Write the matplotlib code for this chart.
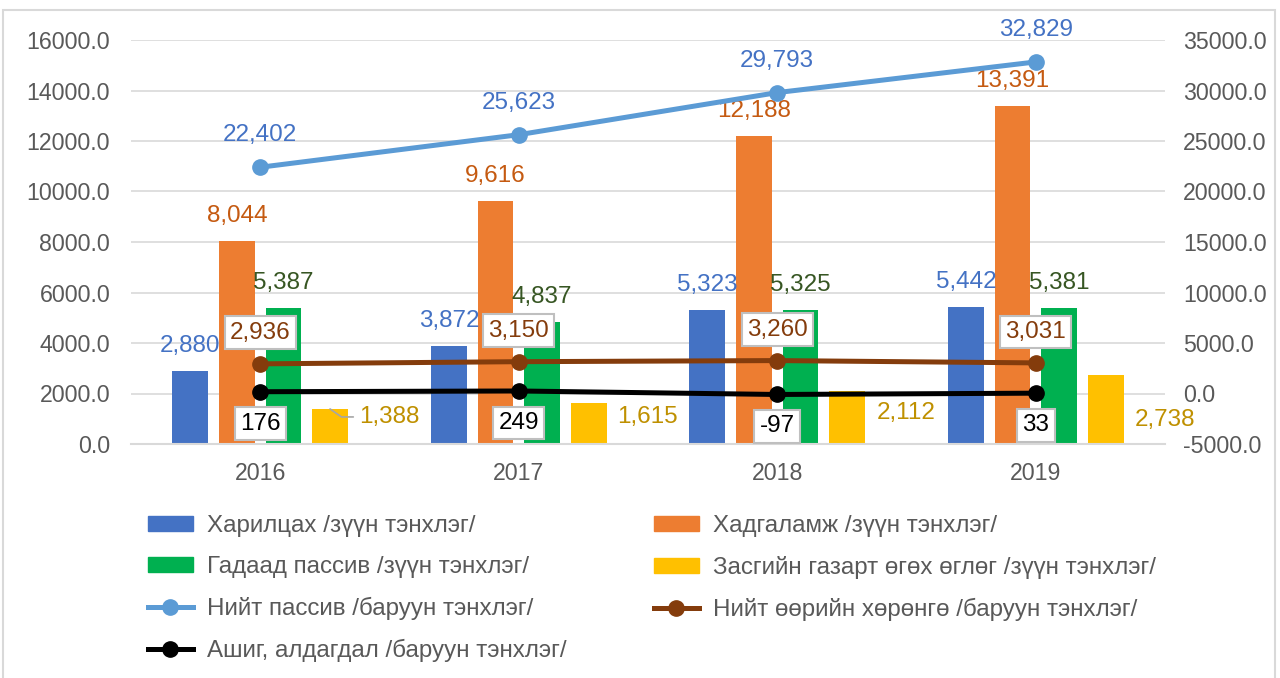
import matplotlib
matplotlib.use("Agg")
import matplotlib.pyplot as plt
from matplotlib.lines import Line2D
from matplotlib.patches import Patch, Rectangle
import numpy as np

plt.rcParams['font.family'] = ['Liberation Sans', 'DejaVu Sans']

years = ['2016', '2017', '2018', '2019']
# зүүн тэнхлэг (bars)
harilcah = [2880, 3872, 5323, 5442]
hadgalamj = [8044, 9616, 12188, 13391]
gadaad_passiv = [5387, 4837, 5325, 5381]
zasgiin_oglog = [1388, 1615, 2112, 2738]
# баруун тэнхлэг (lines)
niit_passiv = [22402, 25623, 29793, 32829]
niit_ooriin = [2936, 3150, 3260, 3031]
ashig = [176, 249, -97, 33]

names = ['Харилцах /зүүн тэнхлэг/', 'Хадгаламж /зүүн тэнхлэг/',
         'Гадаад пассив /зүүн тэнхлэг/', 'Засгийн газарт өгөх өглөг /зүүн тэнхлэг/',
         'Нийт пассив /баруун тэнхлэг/', 'Нийт өөрийн хөрөнгө /баруун тэнхлэг/',
         'Ашиг, алдагдал /баруун тэнхлэг/']

bar_colors = ['#4472C4', '#ED7D31', '#00B050', '#FFC000']
bar_label_colors = ['#4472C4', '#C55A11', '#375623', '#BF9000']
TICK = '#595959'
GRID = '#D9D9D9'
LBL = 17.5

fig = plt.figure(figsize=(12.8, 6.78), dpi=100)
ax = fig.add_axes([131/1280, 234/678, 1034/1280, 404/678])
ax2 = ax.twinx()

x = np.arange(len(years))
w = 0.139
offs = [-0.27, -0.09, 0.09, 0.27]
series = [harilcah, hadgalamj, gadaad_passiv, zasgiin_oglog]

for s, off, c, lc in zip(series, offs, bar_colors, bar_label_colors):
    ax.bar(x + off, s, width=w, color=c, zorder=2)
    if c == '#FFC000':
        continue
    for xi, v in zip(x, s):
        ax.annotate(f'{v:,}', (xi + off, v), xytext=(0, 25), textcoords='offset pixels',
                    ha='center', va='center', fontsize=LBL, color=lc, zorder=5)

# yellow labels sit to the right of the bars
yel_dy = [-8, -14, -22, -45]
for i, (xi, v) in enumerate(zip(x, zasgiin_oglog)):
    arrow = dict(arrowstyle='-', color='#A6A6A6', lw=1.2, shrinkA=2, shrinkB=0,
                 connectionstyle='angle,angleA=0,angleB=-35,rad=0') if i == 0 else None
    ax.annotate(f'{v:,}', (xi + offs[3], v), xytext=(59, yel_dy[i]), textcoords='offset pixels',
                ha='center', va='center', fontsize=LBL, color='#BF9000', zorder=5,
                arrowprops=arrow)

ax.set_xlim(-0.5, 3.5)
ax.set_ylim(0, 16000)
ax.set_yticks(np.arange(0, 16001, 2000))
ax.yaxis.set_major_formatter(matplotlib.ticker.FormatStrFormatter('%.1f'))
ax.grid(axis='y', color=GRID, lw=1.2, zorder=0)
ax.set_axisbelow(True)
ax.set_xticks(x)
ax.set_xticklabels(years)

ax2.set_ylim(-5000, 35000)
ax2.set_yticks(np.arange(-5000, 35001, 5000))
ax2.yaxis.set_major_formatter(matplotlib.ticker.FormatStrFormatter('%.1f'))

ax2.plot(x, niit_passiv, color='#5B9BD5', lw=3.6, marker='o', ms=11, zorder=3)
ax2.plot(x, niit_ooriin, color='#843C0C', lw=3.6, marker='o', ms=11, zorder=3)
ax2.plot(x, ashig, color='black', lw=3.6, marker='o', ms=11, zorder=3)

box = dict(boxstyle='square,pad=0.22', fc='white', ec='#BFBFBF', lw=1.5)
for xi, v in zip(x, niit_passiv):
    ax2.annotate(f'{v:,}', (xi, v), xytext=(0, 32), textcoords='offset pixels',
                 ha='center', va='center', fontsize=LBL, color='#4472C4', zorder=6)
for xi, v in zip(x, niit_ooriin):
    ax2.annotate(f'{v:,}', (xi, v), xytext=(0, 31), textcoords='offset pixels',
                 ha='center', va='center', fontsize=LBL, color='#843C0C', bbox=box, zorder=6)
for xi, v in zip(x, ashig):
    ax2.annotate(f'{v:,}', (xi, v), xytext=(0, -32), textcoords='offset pixels',
                 ha='center', va='center', fontsize=LBL, color='black', bbox=box, zorder=6)

for a in (ax, ax2):
    for side in ('top', 'left', 'right'):
        a.spines[side].set_visible(False)
    a.spines['bottom'].set_color(GRID)
    a.spines['bottom'].set_linewidth(1.5)
    a.tick_params(length=0, labelsize=16.7, colors=TICK)
ax2.spines['bottom'].set_visible(False)
ax.tick_params(axis='y', pad=15)
ax2.tick_params(axis='y', pad=13)
ax.tick_params(axis='x', pad=13)
ax2.set_zorder(ax.get_zorder() + 1)
ax2.patch.set_visible(False)

# legend, column-first order
h = [Patch(color=bar_colors[0]), Patch(color=bar_colors[2]),
     Line2D([], [], color='#5B9BD5', lw=3.6, marker='o', ms=11),
     Line2D([], [], color='black', lw=3.6, marker='o', ms=11),
     Patch(color=bar_colors[1]), Patch(color=bar_colors[3]),
     Line2D([], [], color='#843C0C', lw=3.6, marker='o', ms=11)]
labs = [names[0], names[2], names[4], names[6], names[1], names[3], names[5]]
fig.legend(h, labs, ncol=2, loc='upper left', bbox_to_anchor=(148/1280, 1 - 515/678),
           frameon=False, fontsize=17.4, labelcolor=TICK, handlelength=1.85,
           handleheight=0.58, handletextpad=0.6, labelspacing=0.78, columnspacing=3.6,
           borderaxespad=0, borderpad=0)

fig.patches.append(Rectangle((3/1280, -0.01), 1272/1280, 1 - 10/678 + 0.01,
                             transform=fig.transFigure, fill=False, ec=GRID, lw=1.5))

fig.savefig('out.png', dpi=100)
